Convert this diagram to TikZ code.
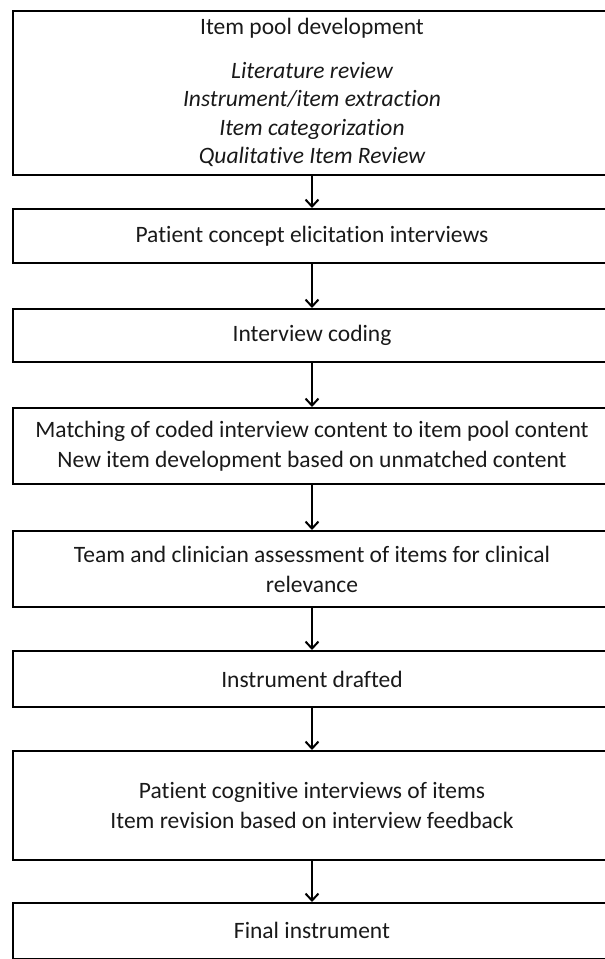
\documentclass[tikz,border=0pt]{standalone}
\usepackage{fontspec}
\setmainfont[Ligatures=NoCommon]{Carlito}
\usetikzlibrary{arrows.meta}
\tikzset{
  stepbox/.style={draw=black, line width=2.2pt, minimum width=597.5pt, anchor=north,
    align=center, inner sep=0pt, font=\fontsize{23.5}{30}\selectfont, text=black!90},
  flow/.style={line width=2pt, -{Straight Barb[length=7pt,width=13pt,line width=2pt]}}
}
\begin{document}
\begin{tikzpicture}[x=1pt,y=1pt]
\useasboundingbox (0,0) rectangle (605,-959);
\clip (0,0) rectangle (605,-959);
\node[stepbox, minimum height=164pt] (b1) at (312,-9.5)
  {Item pool development\\[14pt]
   \itshape Literature review\\[-1.5pt]
   \itshape Instrument/item extraction\\[-1.5pt]
   \itshape Item categorization\\[-1.5pt]
   \itshape Qualitative Item Review};
\node[stepbox, minimum height=54pt] (b2) at (312,-208) {Patient concept elicitation interviews};
\node[stepbox, minimum height=53pt] (b3) at (312,-308) {Interview coding};
\node[stepbox, minimum height=76pt] (b4) at (312,-407)
  {Matching of coded interview content to item pool content\\New item development based on unmatched content};
\node[stepbox, minimum height=76pt] (b5) at (312,-530)
  {Team and clinician assessment of items for clinical\\relevance};
\node[stepbox, minimum height=56pt] (b6) at (312,-650) {Instrument drafted};
\node[stepbox, minimum height=109pt] (b7) at (312,-750)
  {Patient cognitive interviews of items\\Item revision based on interview feedback};
\node[stepbox, minimum height=55.5pt] (b8) at (312,-902) {Final instrument};
\draw[flow] (b1.south) -- (b2.north);
\draw[flow] (b2.south) -- (b3.north);
\draw[flow] (b3.south) -- (b4.north);
\draw[flow] (b4.south) -- (b5.north);
\draw[flow] (b5.south) -- (b6.north);
\draw[flow] (b6.south) -- (b7.north);
\draw[flow] (b7.south) -- (b8.north);
\end{tikzpicture}
\end{document}
